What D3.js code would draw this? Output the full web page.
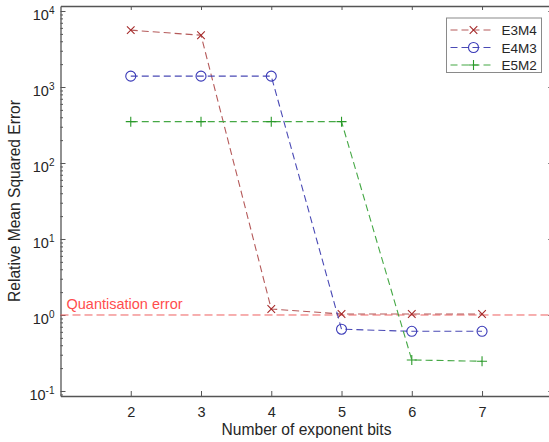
<!DOCTYPE html>
<html>
<head>
<meta charset="utf-8">
<script src="https://cdn.jsdelivr.net/npm/d3@7"></script>
<style>
  body { margin: 0; overflow: hidden; background: #fff; }
  svg { display: block; font-family: "Liberation Sans", Arial, sans-serif; }
</style>
</head>
<body>
<svg id="chart"></svg>
<script>
// Data
const bits = [2, 3, 4, 5, 6, 7];
const e3m4 = [5600, 4800, 1.2, 1.03, 1.03, 1.03];
const e4m3 = [1390, 1390, 1390, 0.65, 0.61, 0.61];
const e5m2 = [350, 350, 350, 350, 0.256, 0.246];
const seriesNames = ["E3M4", "E4M3", "E5M2"];
const yTicks = [0.1, 1, 10, 100, 1000, 10000];
const xTicks = [2, 3, 4, 5, 6, 7];
const quantLevel = 1;

const W = 549, H = 442;
const plotL = 60.5, plotR = 552.3, plotT = 6, plotB = 396;

const svg = d3.select("#chart").attr("width", W).attr("height", H);

const x = d3.scaleLinear().domain([1, 8]).range([plotL, plotR]);
const y = d3.scaleLog().domain([Math.pow(10, -1.066), Math.pow(10, 4.066)]).range([plotB, plotT]);

const axisColor = "#555";
const textColor = "#262626";

// minor ticks on the left axis
const minor = [];
for (let e = -2; e <= 4; e++) {
  for (let m = 2; m <= 9; m++) {
    const v = m * Math.pow(10, e);
    if (v > y.domain()[0] && v < y.domain()[1]) minor.push(v);
  }
}
svg.append("g")
  .attr("transform", `translate(${plotL},0)`)
  .call(d3.axisLeft(y).tickValues(minor).tickSize(-2.5).tickFormat(""))
  .call(g => g.select(".domain").remove())
  .call(g => g.selectAll("line").attr("stroke", "#777"));

// left axis
const yAxis = svg.append("g")
  .attr("transform", `translate(${plotL},0)`)
  .call(d3.axisLeft(y).tickValues(yTicks).tickSize(-5).tickSizeOuter(0).tickPadding(6).tickFormat(""));
yAxis.selectAll(".tick text").each(function(d) {
  const t = d3.select(this)
    .attr("fill", textColor).attr("font-size", 14.5)
    .attr("dy", "0.6em").attr("x", -6).attr("text-anchor", "end");
  t.append("tspan").text("10");
  const ex = Math.round(Math.log10(d));
  t.append("tspan").attr("dy", "-0.6em").attr("font-size", 10).text(ex);
});

// right axis (ticks only)
svg.append("g")
  .attr("transform", `translate(${plotR},0)`)
  .call(d3.axisRight(y).tickValues(yTicks).tickSize(-4).tickSizeOuter(0).tickFormat(""));

// bottom axis
svg.append("g")
  .attr("transform", `translate(0,${plotB})`)
  .call(d3.axisBottom(x).tickValues(xTicks).tickSize(-5).tickSizeOuter(0).tickPadding(11).tickFormat(d3.format("d")))
  .call(g => g.selectAll("text").attr("font-size", 14.5).attr("fill", textColor));

// top axis
svg.append("g")
  .attr("transform", `translate(0,${plotT})`)
  .call(d3.axisTop(x).tickValues(xTicks).tickSize(-4).tickSizeOuter(0).tickFormat(""));

svg.selectAll(".domain").attr("stroke", axisColor).attr("stroke-width", 1.3);
svg.selectAll(".tick line").attr("stroke", axisColor);

// axis titles
svg.append("text")
  .attr("x", 306.5).attr("y", 435)
  .attr("text-anchor", "middle").attr("font-size", 15.6).attr("fill", textColor)
  .text("Number of exponent bits");
svg.append("text")
  .attr("transform", `translate(20,201) rotate(-90)`)
  .attr("text-anchor", "middle").attr("font-size", 15.6).attr("fill", textColor)
  .text("Relative Mean Squared Error");

// quantisation error line
svg.append("line")
  .attr("x1", plotL).attr("x2", plotR)
  .attr("y1", y(quantLevel)).attr("y2", y(quantLevel))
  .attr("stroke", "#ee6060").attr("stroke-width", 1)
  .attr("stroke-dasharray", "8,4");
svg.append("text")
  .attr("x", 66.5).attr("y", y(quantLevel) - 6)
  .attr("font-size", 14.5).attr("fill", "#ff4d4d")
  .text("Quantisation error");

// series
const series = [
  { name: seriesNames[0], values: e3m4, line: "#b55a5a", mark: "#a52a2a", shape: "x" },
  { name: seriesNames[1], values: e4m3, line: "#4a4ab5", mark: "#3a3ab8", shape: "o" },
  { name: seriesNames[2], values: e5m2, line: "#45a845", mark: "#2a9a2a", shape: "+" }
];

function drawMarker(g, shape, color, cx, cy) {
  if (shape === "x") {
    const s = 3.8;
    g.append("path").attr("d", `M${cx - s},${cy - s}L${cx + s},${cy + s}M${cx - s},${cy + s}L${cx + s},${cy - s}`)
      .attr("stroke", color).attr("stroke-width", 1.1).attr("fill", "none");
  } else if (shape === "o") {
    g.append("circle").attr("cx", cx).attr("cy", cy).attr("r", 5)
      .attr("stroke", color).attr("stroke-width", 1.1).attr("fill", "none");
  } else {
    const s = 5;
    g.append("path").attr("d", `M${cx - s},${cy}L${cx + s},${cy}M${cx},${cy - s}L${cx},${cy + s}`)
      .attr("stroke", color).attr("stroke-width", 1.1).attr("fill", "none");
  }
}

const line = d3.line().x(d => x(d[0])).y(d => y(d[1]));

series.forEach(s => {
  const pts = bits.map((b, i) => [b, s.values[i]]);
  svg.append("path")
    .attr("d", line(pts))
    .attr("fill", "none").attr("stroke", s.line).attr("stroke-width", 1.1)
    .attr("stroke-dasharray", "7,4");
  const g = svg.append("g");
  pts.forEach(p => drawMarker(g, s.shape, s.mark, x(p[0]), y(p[1])));
});

// legend
const lg = svg.append("g").attr("transform", "translate(446.5,18)");
lg.append("rect").attr("width", 95).attr("height", 54.5)
  .attr("fill", "#fff").attr("stroke", "#8a8a8a").attr("stroke-width", 1);
series.forEach((s, i) => {
  const ly = 12 + i * 17.5;
  lg.append("line").attr("x1", 4).attr("x2", 47).attr("y1", ly).attr("y2", ly)
    .attr("stroke", s.line).attr("stroke-width", 1.1).attr("stroke-dasharray", "7,4");
  drawMarker(lg, s.shape, s.mark, 27, ly);
  lg.append("text").attr("x", 55).attr("y", ly + 5)
    .attr("font-size", 13.5).attr("fill", textColor).text(s.name);
});
</script>
</body>
</html>
